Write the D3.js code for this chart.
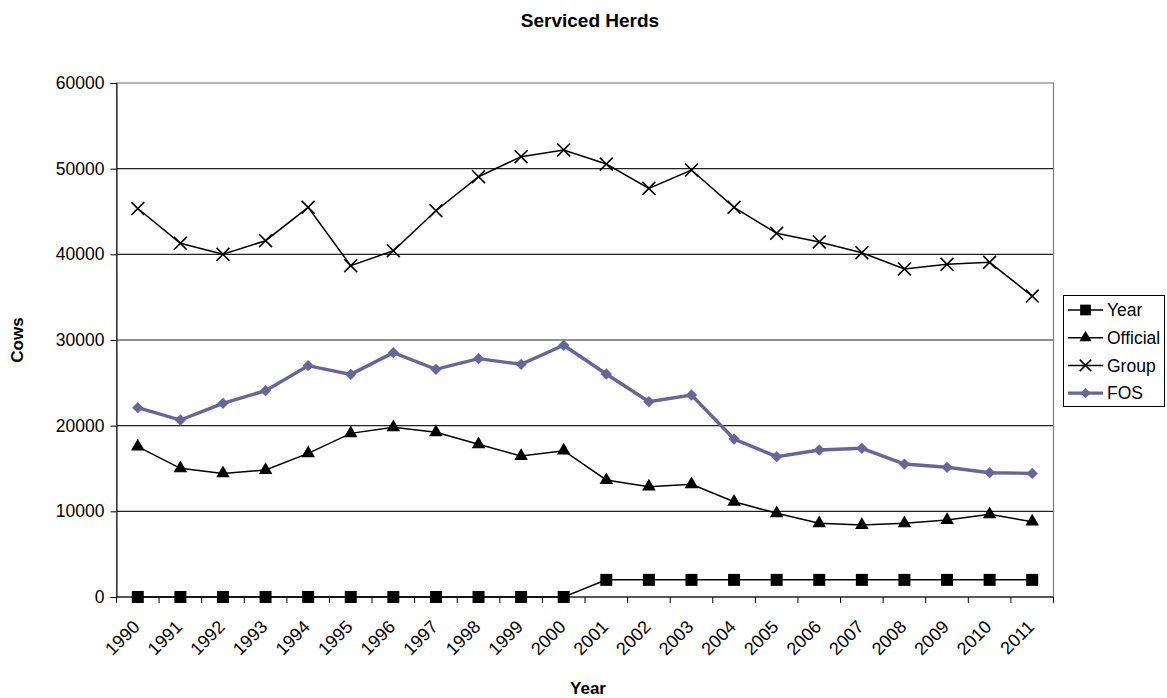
<!DOCTYPE html>
<html>
<head>
<meta charset="utf-8">
<script src="https://cdn.jsdelivr.net/npm/d3@7/dist/d3.min.js"></script>
<style>
  body { margin: 0; background: #fff; }
  text { font-family: "Liberation Sans", Arial, sans-serif; fill: #000; }
</style>
</head>
<body>
<svg id="chart"></svg>
<script>
var years = ["1990","1991","1992","1993","1994","1995","1996","1997","1998","1999","2000",
             "2001","2002","2003","2004","2005","2006","2007","2008","2009","2010","2011"]
var yearVals = [0,0,0,0,0,0,0,0,0,0,0, 2000,2000,2000,2000,2000,2000,2000,2000,2000,2000,2000]
var officialVals = [17550,15020,14430,14820,16770,19100,19810,19220,17820,16460,17080,
                    13660,12880,13150,11120,9770,8600,8400,8600,8990,9650,8790]
var groupVals = [45350,41290,40000,41590,45490,38670,40420,45090,49060,51400,52180,
                 50540,47700,49840,45490,42450,41440,40190,38290,38830,39070,35130]
var fosVals = [22100,20660,22610,24080,27000,25990,28520,26580,27820,27160,29380,
               26030,22800,23580,18440,16380,17160,17360,15520,15140,14510,14430]
var yTicks = [0,10000,20000,30000,40000,50000,60000]

var dimensions = {
    width: 1167,
    height: 698,
    margin: { top: 83, bottom: 101, right: 113.5, left: 116.5 }
}

var svg = d3.select("#chart")
            .attr("width", dimensions.width)
            .attr("height", dimensions.height)

var xScale = d3.scaleBand()
               .domain(years)
               .range([dimensions.margin.left, dimensions.width - dimensions.margin.right])
               .padding(0)

var yScale = d3.scaleLinear()
               .domain([0, 60000])
               .range([dimensions.height - dimensions.margin.bottom, dimensions.margin.top])

var cx = d => xScale(d) + xScale.bandwidth() / 2
var x0 = dimensions.margin.left, x1 = dimensions.width - dimensions.margin.right
var yBottom = yScale(0), yTop = yScale(60000)

// gridlines
svg.append("g")
   .selectAll("line")
   .data(yTicks.filter(d => d > 0 && d < 60000))
   .join("line")
   .attr("x1", x0).attr("x2", x1)
   .attr("y1", d => yScale(d)).attr("y2", d => yScale(d))
   .style("stroke", "#222")
   .style("stroke-width", 1.1)

// plot border
svg.append("rect")
   .attr("x", x0).attr("y", yTop)
   .attr("width", x1 - x0).attr("height", yBottom - yTop)
   .style("fill", "none")
   .style("stroke", "#808080")
   .style("stroke-width", 1.2)

// y axis
var yAxisgen = d3.axisLeft(yScale).tickValues(yTicks).tickSize(6).tickPadding(6).tickFormat(d3.format("d"))
var yAxis = svg.append("g")
               .attr("transform", `translate(${x0},0)`)
               .call(yAxisgen)
yAxis.selectAll("text").style("font-size", "17.5px").style("font-family", '"Liberation Sans", Arial, sans-serif')
yAxis.selectAll("line, path").style("stroke", "#000")

// x axis: ticks at band boundaries
var xAxis = svg.append("g")
xAxis.append("line")
     .attr("x1", x0).attr("x2", x1)
     .attr("y1", yBottom).attr("y2", yBottom)
     .style("stroke", "#000")
xAxis.selectAll("line.tick")
     .data(years.concat(["end"]))
     .join("line")
     .attr("class", "tick")
     .attr("x1", d => d == "end" ? x1 : xScale(d))
     .attr("x2", d => d == "end" ? x1 : xScale(d))
     .attr("y1", yBottom).attr("y2", yBottom + 6)
     .style("stroke", "#000")
xAxis.selectAll("text")
     .data(years)
     .join("text")
     .attr("transform", d => `translate(${cx(d) - 6},${yBottom + 22}) rotate(-45)`)
     .attr("text-anchor", "end")
     .attr("dy", "0.71em")
     .style("font-size", "18px")
     .text(d => d)

// series
var line = d3.line()
             .x((d, i) => cx(years[i]))
             .y(d => yScale(d))

var series = [
    { name: "Year", vals: yearVals, color: "#000", width: 1.5, symbol: d3.symbolSquare, size: 144, fill: true, rot: 0 },
    { name: "Official", vals: officialVals, color: "#000", width: 1.5, symbol: d3.symbolTriangle, size: 80, fill: true, rot: 0 },
    { name: "Group", vals: groupVals, color: "#000", width: 1.5, symbol: d3.symbolTimes, size: 110, fill: false, rot: 0 },
    { name: "FOS", vals: fosVals, color: "#666699", width: 3.4, symbol: d3.symbolSquare, size: 64, fill: true, rot: 45 }
]

series.forEach(s => {
    svg.append("path")
       .datum(s.vals)
       .attr("d", line)
       .style("fill", "none")
       .style("stroke", s.color)
       .style("stroke-width", s.width)
    var sym = d3.symbol().type(s.symbol).size(s.size)
    svg.append("g")
       .selectAll("path")
       .data(s.vals)
       .join("path")
       .attr("d", sym)
       .attr("transform", (d, i) => `translate(${cx(years[i])},${yScale(d)}) rotate(${s.rot})`)
       .style("fill", s.fill ? s.color : "none")
       .style("stroke", s.color)
       .style("stroke-width", s.fill ? 0 : 1.6)
})

// legend
var legend = svg.append("g")
legend.append("rect")
      .attr("x", 1063.5).attr("y", 295.5)
      .attr("width", 101).attr("height", 111)
      .style("fill", "#fff")
      .style("stroke", "#000")
      .style("stroke-width", 1)
series.forEach((s, i) => {
    var ly = 310 + i * 27.7
    legend.append("line")
          .attr("x1", 1068).attr("x2", 1103)
          .attr("y1", ly).attr("y2", ly)
          .style("stroke", s.color)
          .style("stroke-width", s.width)
    legend.append("path")
          .attr("d", d3.symbol().type(s.symbol).size(s.size * 0.8))
          .attr("transform", `translate(1085.5,${ly}) rotate(${s.rot})`)
          .style("fill", s.fill ? s.color : "none")
          .style("stroke", s.color)
          .style("stroke-width", s.fill ? 0 : 1.5)
    legend.append("text")
          .attr("x", 1107).attr("y", ly)
          .attr("dy", "0.35em")
          .style("font-size", "17.5px")
          .text(s.name)
})

// titles
svg.append("text")
   .attr("x", 590).attr("y", 27)
   .attr("text-anchor", "middle")
   .style("font-size", "19px").style("font-weight", "bold")
   .text("Serviced Herds")
svg.append("text")
   .attr("transform", `translate(23,340) rotate(-90)`)
   .attr("text-anchor", "middle")
   .style("font-size", "17px").style("font-weight", "bold")
   .text("Cows")
svg.append("text")
   .attr("x", 588).attr("y", 694)
   .attr("text-anchor", "middle")
   .style("font-size", "17px").style("font-weight", "bold")
   .text("Year")
</script>
</body>
</html>
